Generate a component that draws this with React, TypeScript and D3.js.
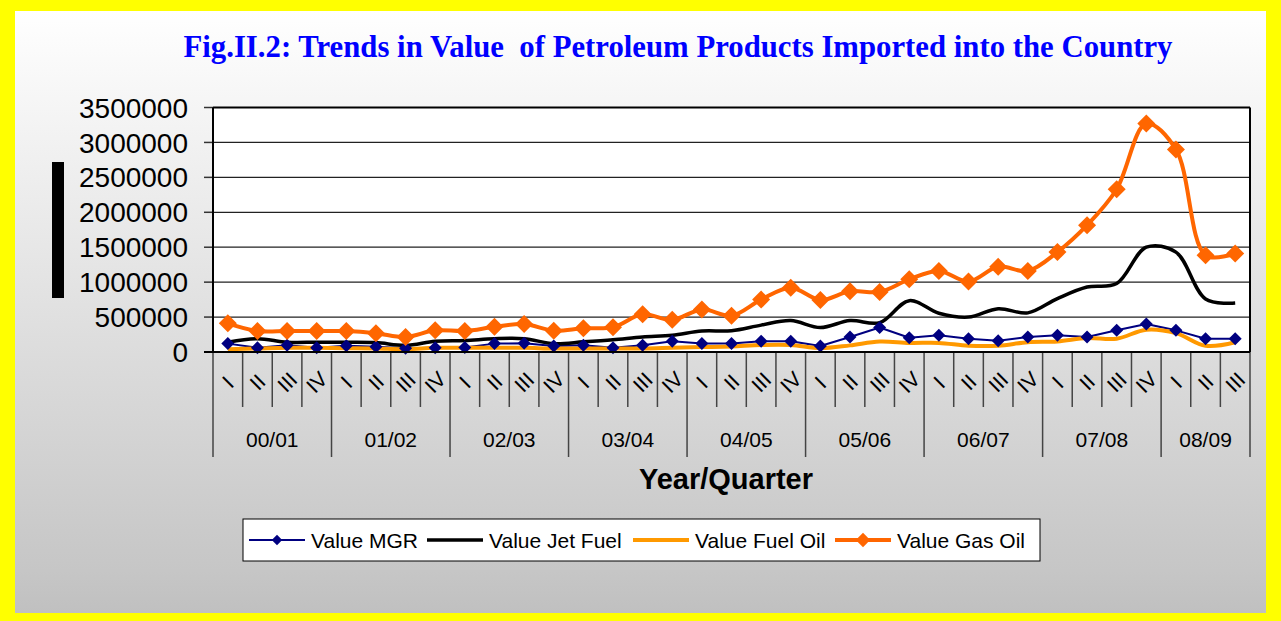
import React from 'react';
import * as d3 from 'd3';

// fiscal years and quarters on the category axis
const years = ['00/01', '01/02', '02/03', '03/04', '04/05', '05/06', '06/07', '07/08', '08/09'];
const quarterNames = ['I', 'II', 'III', 'IV'];

// values, one per quarter (00/01 I .. 08/09 III)
const valueMGR = [120000, 60000, 95000, 60000, 90000, 75000, 55000, 60000, 65000, 120000, 125000, 85000,
  95000, 60000, 95000, 155000, 120000, 120000, 155000, 155000, 85000, 215000, 350000, 205000,
  240000, 190000, 160000, 215000, 240000, 215000, 310000, 400000, 310000, 190000, 190000];
const valueJetFuel = [140000, 190000, 140000, 140000, 140000, 135000, 95000, 155000, 165000, 190000, 190000, 120000,
  145000, 175000, 215000, 240000, 300000, 305000, 385000, 450000, 350000, 450000, 420000, 735000,
  555000, 500000, 620000, 560000, 765000, 930000, 980000, 1500000, 1430000, 760000, 700000];
const valueFuelOil = [40000, 50000, 60000, 60000, 55000, 50000, 40000, 60000, 60000, 60000, 60000, 50000,
  50000, 50000, 50000, 60000, 70000, 80000, 100000, 100000, 55000, 95000, 150000, 130000,
  130000, 90000, 90000, 140000, 150000, 200000, 190000, 320000, 270000, 90000, 140000];
const valueGasOil = [410000, 300000, 300000, 300000, 300000, 270000, 215000, 310000, 300000, 360000, 400000, 305000,
  340000, 355000, 540000, 460000, 610000, 520000, 750000, 920000, 745000, 870000, 860000, 1040000,
  1160000, 1010000, 1220000, 1160000, 1430000, 1815000, 2330000, 3270000, 2900000, 1385000, 1410000];

const yTicks = [0, 500000, 1000000, 1500000, 2000000, 2500000, 3000000, 3500000];

const W = 1281;
const H = 621;
const left = 213, right = 1250, top = 107.5, bottom = 352;

const series = [
  { name: 'Value MGR', values: valueMGR, color: '#000080', width: 2, marker: 6.5, curve: d3.curveLinear },
  { name: 'Value Jet Fuel', values: valueJetFuel, color: '#000000', width: 3.5, marker: 0, curve: d3.curveCatmullRom.alpha(0.5) },
  { name: 'Value Fuel Oil', values: valueFuelOil, color: '#FF9900', width: 4, marker: 0, curve: d3.curveCatmullRom.alpha(0.5) },
  { name: 'Value Gas Oil', values: valueGasOil, color: '#FF6600', width: 4, marker: 9, curve: d3.curveCatmullRom.alpha(0.5) },
];

const diamond = (cx: number, cy: number, r: number) =>
  `M${cx},${cy - r}L${cx + r},${cy}L${cx},${cy + r}L${cx - r},${cy}Z`;

export default function App() {
  const n = valueMGR.length;
  const idx = d3.range(n);
  const x = d3.scaleBand<number>().domain(idx).range([left, right]);
  const bw = x.bandwidth();
  const cx = (i: number) => (x(i) as number) + bw / 2;
  const y = d3.scaleLinear().domain([0, 3500000]).range([bottom, top]);

  const legendX = [249, 427, 633, 835];

  return (
    <svg width={W} height={H} style={{ position: 'absolute', left: 0, top: 0 }}
      fontFamily="'Liberation Sans', Arial, sans-serif">
      <defs>
        <linearGradient id="bg" x1="0" y1="0" x2="0" y2="1">
          <stop offset="0" stopColor="#ffffff" />
          <stop offset="0.08" stopColor="#fafafa" />
          <stop offset="0.93" stopColor="#c6c6c6" />
          <stop offset="1" stopColor="#c0c0c0" />
        </linearGradient>
      </defs>
      <rect width={W} height={H} fill="#FFFF00" />
      <rect x={15} y={11} width={1251} height={602} fill="url(#bg)" />

      <text x={678} y={57} textAnchor="middle" fontFamily="'Liberation Serif', 'Times New Roman', serif"
        fontWeight="bold" fontSize={31} fill="#0000FF" textLength={989} lengthAdjust="spacingAndGlyphs"
        style={{ whiteSpace: 'pre' }}>
        {'Fig.II.2: Trends in Value  of Petroleum Products Imported into the Country'}
      </text>

      {/* odd black bar where the axis title would be */}
      <rect x={52} y={162} width={12} height={136} fill="#000" />

      {/* plot area */}
      <rect x={left} y={top} width={right - left} height={bottom - top} fill="#fff" />
      {yTicks.slice(1, -1).map(t => (
        <line key={t} x1={left} x2={right} y1={y(t)} y2={y(t)} stroke="#222" strokeWidth={1.2} />
      ))}
      {yTicks.map(t => (
        <g key={'yt' + t}>
          <line x1={left - 9} x2={left} y1={y(t)} y2={y(t)} stroke="#333" strokeWidth={1.5} />
          <text x={188} y={y(t)} dy="0.36em" textAnchor="end" fontSize={28} fill="#000">{t}</text>
        </g>
      ))}

      {/* category ticks */}
      {d3.range(n + 1).map(i => {
        const xb = left + i * bw;
        const long = i % 4 === 0 || i === n;
        return <line key={'xt' + i} x1={xb} x2={xb} y1={bottom} y2={long ? 457 : 407} stroke="#444" strokeWidth={1.5} />;
      })}
      {idx.map(i => (
        <text key={'q' + i} x={cx(i)} y={382} textAnchor="middle" dominantBaseline="central" fontSize={21}
          transform={`rotate(-45 ${cx(i)} 382)`} fill="#000">
          {quarterNames[i % 4]}
        </text>
      ))}
      {years.map((yr, k) => {
        const s = k * 4;
        const e = Math.min(s + 4, n);
        const mid = ((x(s) as number) + (x(e - 1) as number) + bw) / 2;
        return <text key={yr} x={mid} y={447} textAnchor="middle" fontSize={21} fill="#000">{yr}</text>;
      })}
      <text x={726} y={489} textAnchor="middle" fontSize={29} fontWeight="bold" fill="#000">Year/Quarter</text>

      {/* series lines */}
      {series.map(s => {
        const line = d3.line<number>().x((_, i) => cx(i)).y(v => y(v)).curve(s.curve);
        return <path key={s.name} d={line(s.values) || ''} fill="none" stroke={s.color} strokeWidth={s.width}
          strokeLinejoin="round" />;
      })}
      {series.filter(s => s.marker > 0).map(s => (
        <g key={s.name + 'm'}>
          {s.values.map((v, i) => <path key={i} d={diamond(cx(i), y(v), s.marker)} fill={s.color} />)}
        </g>
      ))}

      {/* plot frame */}
      <line x1={left} x2={right} y1={top} y2={top} stroke="#000" strokeWidth={2} />
      <line x1={right} x2={right} y1={top} y2={bottom} stroke="#000" strokeWidth={2} />
      <line x1={left} x2={left} y1={top} y2={bottom} stroke="#000" strokeWidth={2} />
      <line x1={left - 9} x2={right} y1={bottom} y2={bottom} stroke="#000" strokeWidth={2} />

      {/* legend */}
      <rect x={243} y={519} width={797} height={42} fill="#fff" stroke="#000" strokeWidth={1} />
      {series.map((s, k) => {
        const lx = legendX[k];
        return (
          <g key={'lg' + k}>
            <line x1={lx} x2={lx + 56} y1={540} y2={540} stroke={s.color} strokeWidth={s.width} />
            {s.marker > 0 && <path d={diamond(lx + 28, 540, s.marker * 0.8)} fill={s.color} />}
            <text x={lx + 62} y={547.5} fontSize={21} fill="#000">{s.name}</text>
          </g>
        );
      })}
    </svg>
  );
}
